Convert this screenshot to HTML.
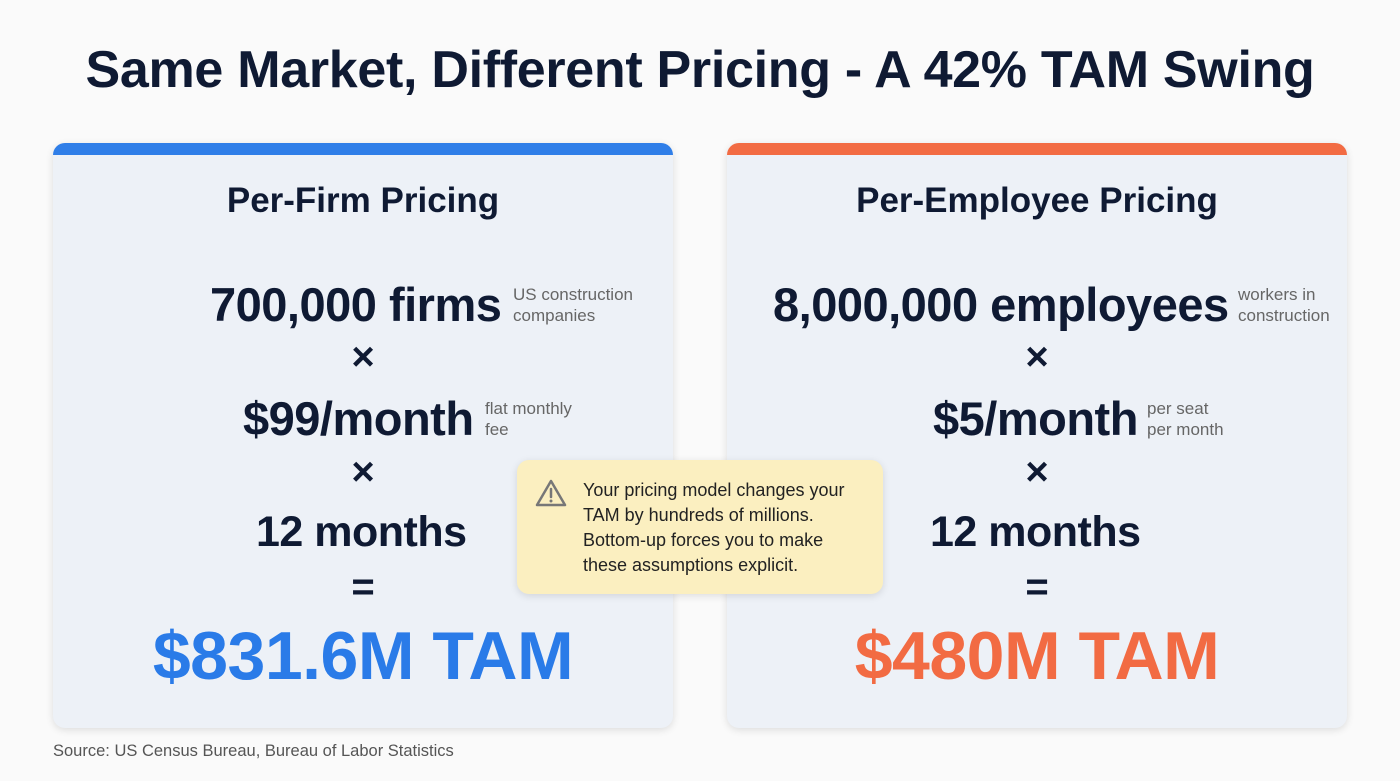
<!DOCTYPE html>
<html><head><meta charset="utf-8"><style>
body{margin:0;width:1400px;height:781px;background:#fafafa;font-family:"Liberation Sans",sans-serif;position:relative;overflow:hidden;color:#0f1a33}
.t{position:absolute;white-space:nowrap}
h1{position:absolute;top:40px;left:0;width:1400px;text-align:center;margin:0;font-size:52px;font-weight:700;letter-spacing:-0.3px}
.card{position:absolute;top:143px;width:620px;height:585px;background:#edf1f7;border-radius:12px;box-shadow:0 2px 8px rgba(0,0,0,.12);overflow:hidden}
.bar{position:absolute;left:0;top:0;width:100%;height:12px}
.hd{position:absolute;left:0;width:100%;text-align:center;top:38px;font-size:35px;font-weight:700}
.m{font-size:47px;font-weight:700;letter-spacing:-0.5px}
.mo{font-size:43px;font-weight:700;letter-spacing:-0.5px}
.op{font-size:40px;font-weight:700;width:620px;text-align:center;left:0}
.an{font-size:17px;color:#666;line-height:21px}
.tam{font-size:68px;font-weight:700;width:620px;text-align:center;left:0;letter-spacing:-0.5px}
.call{position:absolute;left:517px;top:460px;width:366px;height:134px;background:#fbefc0;border-radius:12px;box-shadow:0 2px 8px rgba(0,0,0,.12)}
.call p{position:absolute;left:66px;top:18px;margin:0;font-size:18px;line-height:25px;color:#222}
</style></head><body>
<h1>Same Market, Different Pricing - A 42% TAM Swing</h1>

<div class="card" style="left:53px">
<div class="bar" style="background:#2f7ee8"></div>
<div class="hd">Per-Firm Pricing</div>
<div class="t m" style="left:157px;top:134px">700,000 firms</div>
<div class="t an" style="left:460px;top:141px">US construction<br>companies</div>
<div class="t op" style="top:192px">×</div>
<div class="t m" style="left:190px;top:248px">$99/month</div>
<div class="t an" style="left:432px;top:255px">flat monthly<br>fee</div>
<div class="t op" style="top:307px">×</div>
<div class="t mo" style="left:203px;top:365px">12 months</div>
<div class="t op" style="top:422px">=</div>
<div class="t tam" style="top:474px;color:#2a7be8">$831.6M TAM</div>
</div>

<div class="card" style="left:727px">
<div class="bar" style="background:#f26b43"></div>
<div class="hd">Per-Employee Pricing</div>
<div class="t m" style="left:46px;top:134px">8,000,000 employees</div>
<div class="t an" style="left:511px;top:141px">workers in<br>construction</div>
<div class="t op" style="top:192px">×</div>
<div class="t m" style="left:206px;top:248px">$5/month</div>
<div class="t an" style="left:420px;top:255px">per seat<br>per month</div>
<div class="t op" style="top:307px">×</div>
<div class="t mo" style="left:203px;top:365px">12 months</div>
<div class="t op" style="top:422px">=</div>
<div class="t tam" style="top:474px;color:#f26b43">$480M TAM</div>
</div>

<div class="call">
<svg style="position:absolute;left:18px;top:18px" width="32" height="30" viewBox="0 0 32 30"><path d="M16 3 L30 27 H2 Z" fill="none" stroke="#777" stroke-width="2.5" stroke-linejoin="round"/><line x1="16" y1="11" x2="16" y2="19" stroke="#777" stroke-width="2.5" stroke-linecap="round"/><circle cx="16" cy="23" r="1.5" fill="#777"/></svg>
<p>Your pricing model changes your<br>TAM by hundreds of millions.<br>Bottom-up forces you to make<br>these assumptions explicit.</p>
</div>

<div class="t" style="left:53px;top:742px;font-size:16.5px;color:#555">Source: US Census Bureau, Bureau of Labor Statistics</div>
</body></html>
